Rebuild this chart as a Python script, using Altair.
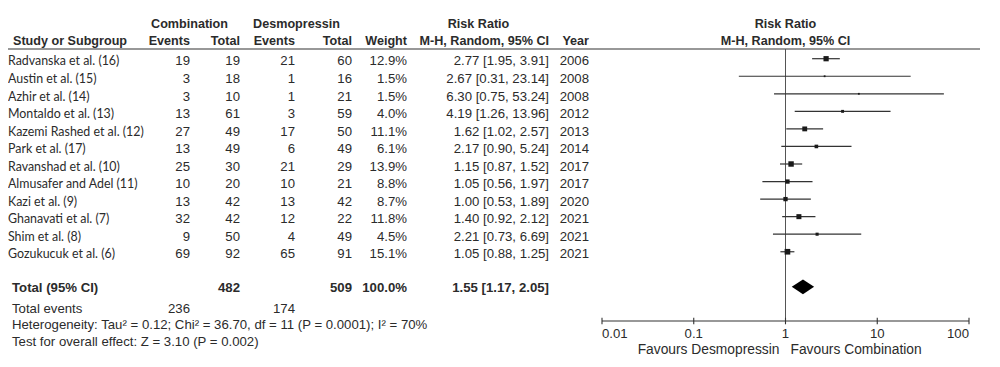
import altair as alt
import pandas as pd

# ---------------- data ----------------
studies = ["Radvanska et al. (16)", "Austin et al. (15)", "Azhir et al. (14)",
           "Montaldo et al. (13)", "Kazemi Rashed et al. (12)", "Park et al. (17)",
           "Ravanshad et al. (10)", "Almusafer and Adel (11)", "Kazi et al. (9)",
           "Ghanavati et al. (7)", "Shim et al. (8)", "Gozukucuk et al. (6)"]
comb_events = [19, 3, 3, 13, 27, 13, 25, 10, 13, 32, 9, 69]
comb_total = [19, 18, 10, 61, 49, 49, 30, 20, 42, 42, 50, 92]
des_events = [21, 1, 1, 3, 17, 6, 21, 10, 13, 12, 4, 65]
des_total = [60, 16, 21, 59, 50, 49, 29, 21, 42, 22, 49, 91]
weight = [12.9, 1.5, 1.5, 4.0, 11.1, 6.1, 13.9, 8.8, 8.7, 11.8, 4.5, 15.1]
rr = [2.77, 2.67, 6.30, 4.19, 1.62, 2.17, 1.15, 1.05, 1.00, 1.40, 2.21, 1.05]
rr_lo = [1.95, 0.31, 0.75, 1.26, 1.02, 0.90, 0.87, 0.56, 0.53, 0.92, 0.73, 0.88]
rr_hi = [3.91, 23.14, 53.24, 13.96, 2.57, 5.24, 1.52, 1.97, 1.89, 2.12, 6.69, 1.25]
year = [2006, 2008, 2008, 2012, 2013, 2014, 2017, 2017, 2020, 2021, 2021, 2021]

pooled_rr = 1.55
pooled_lo = 1.17
pooled_hi = 2.05
total_weight = "100.0%"
heterogeneity = "Heterogeneity: Tau\u00b2 = 0.12; Chi\u00b2 = 36.70, df = 11 (P = 0.0001); I\u00b2 = 70%"
overall = "Test for overall effect: Z = 3.10 (P = 0.002)"

tick_values = [0.01, 0.1, 1, 10, 100]
tick_labels = ["0.01", "0.1", "1", "10", "100"]
favours_left = "Favours Desmopressin"
favours_right = "Favours Combination"

# ---------------- layout / style ----------------
FONT = "Liberation Sans"
NAME_FONT = "Lato"
TXT = "#2b2b2b"
NAME_SIZE = 12.4
NUM_SIZE = 13.2
HEAD_SIZE = 12.6
FAV_SIZE = 13.8
COLX = {"name": 0, "ce": 182, "ct": 232, "de": 287, "dt": 344, "w": 399, "ci": 541, "yr": 581}
ROW_DY = 2.7
Y_HEAD1, Y_HEAD2, Y_HLINE = 16, 33, 41
Y_TOTAL, Y_TEV, Y_HET, Y_TEST = 279.8, 300.5, 316.5, 334
Y_AXIS, Y_TLAB, Y_FAV = 313, 325.5, 341.5

df = pd.DataFrame({
    "row": list(range(len(studies))),
    "name": studies,
    "ce": [str(v) for v in comb_events],
    "ct": [str(v) for v in comb_total],
    "de": [str(v) for v in des_events],
    "dt": [str(v) for v in des_total],
    "w": [f"{v:.1f}%" for v in weight],
    "ci": [f"{a:.2f} [{b:.2f}, {c:.2f}]" for a, b, c in zip(rr, rr_lo, rr_hi)],
    "yr": [str(v) for v in year],
    "weight": weight,
    "rr": rr,
    "lo": rr_lo,
    "hi": rr_hi,
})

yscale = alt.Scale(domain=[0, 12], range=[50.7, 261.3], nice=False, zero=False)
xscale = alt.Scale(type="log", domain=[tick_values[0], tick_values[-1]], range=[594, 961], nice=False)

layers = []

# study rows text
for key in ["name", "ce", "ct", "de", "dt", "w", "ci", "yr"]:
    layers.append(
        alt.Chart(df).mark_text(
            align="left" if key == "name" else "right", baseline="middle",
            font=NAME_FONT if key == "name" else FONT,
            fontSize=NAME_SIZE if key == "name" else NUM_SIZE, color=TXT, dy=ROW_DY
        ).encode(
            x=alt.value(COLX[key]),
            y=alt.Y("row:Q", scale=yscale, axis=None),
            text=f"{key}:N",
        )
    )


def label(s, x, y, align="left", bold=False, size=NUM_SIZE):
    return alt.Chart(pd.DataFrame({"t": [s]})).mark_text(
        align=align, baseline="middle", font=FONT, fontSize=size,
        fontWeight="bold" if bold else "normal", color=TXT
    ).encode(x=alt.value(x), y=alt.value(y), text="t:N")


# headers
layers += [
    label("Combination", 181.5, Y_HEAD1, "center", True, HEAD_SIZE),
    label("Desmopressin", 288.5, Y_HEAD1, "center", True, HEAD_SIZE),
    label("Risk Ratio", 470.5, Y_HEAD1, "center", True, HEAD_SIZE),
    label("Study or Subgroup", 5, Y_HEAD2, "left", True, HEAD_SIZE),
    label("Events", COLX["ce"], Y_HEAD2, "right", True, HEAD_SIZE),
    label("Total", COLX["ct"], Y_HEAD2, "right", True, HEAD_SIZE),
    label("Events", COLX["de"], Y_HEAD2, "right", True, HEAD_SIZE),
    label("Total", COLX["dt"], Y_HEAD2, "right", True, HEAD_SIZE),
    label("Weight", COLX["w"], Y_HEAD2, "right", True, HEAD_SIZE),
    label("M-H, Random, 95% CI", COLX["ci"], Y_HEAD2, "right", True, HEAD_SIZE),
    label("Year", COLX["yr"], Y_HEAD2, "right", True, HEAD_SIZE),
]

# footer
layers += [
    label("Total (95% CI)", 4, Y_TOTAL, "left", True),
    label(str(sum(comb_total)), COLX["ct"], Y_TOTAL, "right", True),
    label(str(sum(des_total)), COLX["dt"], Y_TOTAL, "right", True),
    label(total_weight, COLX["w"], Y_TOTAL, "right", True),
    label(f"{pooled_rr:.2f} [{pooled_lo:.2f}, {pooled_hi:.2f}]", COLX["ci"], Y_TOTAL, "right", True),
    label("Total events", 4, Y_TEV),
    label(str(sum(comb_events)), COLX["ce"], Y_TEV, "right"),
    label(str(sum(des_events)), COLX["de"], Y_TEV, "right"),
    label(heterogeneity, 4, Y_HET),
    label(overall, 4, Y_TEST),
]

# header rule
layers.append(
    alt.Chart(pd.DataFrame({"a": [0]})).mark_rule(color="#333", strokeWidth=1.1).encode(
        x=alt.value(0), x2=alt.value(972), y=alt.value(Y_HLINE))
)

# forest plot
one = pd.DataFrame({"v": [1.0]})
layers.append(
    alt.Chart(one).mark_rule(color="#555", strokeWidth=1).encode(
        x=alt.X("v:Q", scale=xscale, axis=None), y=alt.value(Y_HLINE), y2=alt.value(Y_AXIS))
)
layers.append(
    alt.Chart(df).mark_rule(color="#333", strokeWidth=1.2).encode(
        x=alt.X("lo:Q", scale=xscale, axis=None), x2="hi:Q",
        y=alt.Y("row:Q", scale=yscale, axis=None))
)
layers.append(
    alt.Chart(df).mark_square(color="#1a1a1a", opacity=1, filled=True).encode(
        x=alt.X("rr:Q", scale=xscale, axis=None),
        y=alt.Y("row:Q", scale=yscale, axis=None),
        size=alt.Size("weight:Q", scale=alt.Scale(domain=[0, 16], range=[0, 34]), legend=None))
)
half = 7.3 / 17.55
dia = pd.DataFrame({
    "x": [pooled_lo, pooled_rr, pooled_hi],
    "top": [13, 13 - half, 13],
    "bot": [13, 13 + half, 13],
})
layers.append(
    alt.Chart(dia).mark_area(color="black", opacity=1).encode(
        x=alt.X("x:Q", scale=xscale, axis=None),
        y=alt.Y("top:Q", scale=yscale, axis=None), y2="bot:Q")
)

# axis
ends = pd.DataFrame({"a": [tick_values[0]], "b": [tick_values[-1]]})
layers.append(
    alt.Chart(ends).mark_rule(color="#333", strokeWidth=1.1).encode(
        x=alt.X("a:Q", scale=xscale, axis=None), x2="b:Q", y=alt.value(Y_AXIS))
)
ticks = pd.DataFrame({"t": tick_values, "lab": tick_labels})
layers.append(
    alt.Chart(ticks).mark_rule(color="#333", strokeWidth=1.1).encode(
        x=alt.X("t:Q", scale=xscale, axis=None), y=alt.value(Y_AXIS - 3.3), y2=alt.value(Y_AXIS + 3.3))
)
for sub, al in [(ticks.iloc[:1], "left"), (ticks.iloc[1:-1], "center"), (ticks.iloc[-1:], "right")]:
    layers.append(
        alt.Chart(sub).mark_text(align=al, baseline="middle", font=FONT, fontSize=NUM_SIZE, color=TXT).encode(
            x=alt.X("t:Q", scale=xscale, axis=None), y=alt.value(Y_TLAB), text="lab:N")
    )

fav = pd.DataFrame({"v": [1.0, 1.0], "t": [favours_left, favours_right]})
layers.append(
    alt.Chart(fav.iloc[:1]).mark_text(align="right", dx=-6, baseline="middle", font=FONT,
                                      fontSize=FAV_SIZE, color=TXT).encode(
        x=alt.X("v:Q", scale=xscale, axis=None), y=alt.value(Y_FAV), text="t:N")
)
layers.append(
    alt.Chart(fav.iloc[1:]).mark_text(align="left", dx=5, baseline="middle", font=FONT,
                                      fontSize=FAV_SIZE, color=TXT).encode(
        x=alt.X("v:Q", scale=xscale, axis=None), y=alt.value(Y_FAV), text="t:N")
)

# right panel header
rh = pd.DataFrame({"v": [1.0, 1.0], "t": ["Risk Ratio", "M-H, Random, 95% CI"], "y": [Y_HEAD1, Y_HEAD2]})
for i in range(2):
    layers.append(
        alt.Chart(rh.iloc[i:i + 1]).mark_text(align="center", baseline="middle", font=FONT,
                                              fontSize=HEAD_SIZE, fontWeight="bold", color=TXT).encode(
            x=alt.X("v:Q", scale=xscale, axis=None), y=alt.value(float(rh["y"].iloc[i])), text="t:N")
    )

chart = alt.layer(*layers).properties(
    width=984, height=352, padding=0, autosize=alt.AutoSizeParams(type="none")
).configure_view(stroke=None)

chart.save("out.html", embed_options={"renderer": "svg", "actions": False})
